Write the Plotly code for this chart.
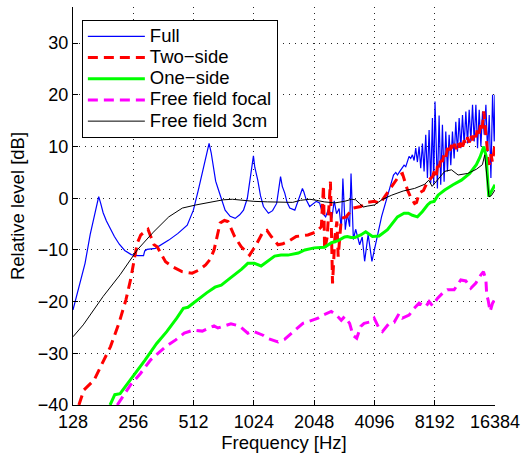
import plotly.graph_objects as go

# ---------------- data ----------------
x_ticks = [128, 256, 512, 1024, 2048, 4096, 8192, 16384]
x_ticklabels = ["128", "256", "512", "1024", "2048", "4096", "8192", "16384"]
y_ticks = [-40, -30, -20, -10, 0, 10, 20, 30]

series_names = ["Full", "Two\u2212side", "One\u2212side", "Free field focal", "Free field 3cm"]

F_full = [128, 137, 147, 156, 163, 168, 172, 176, 181, 188,
          196, 206, 218, 232, 250, 270, 288, 292, 300, 330,
          385, 428, 476, 511, 541, 574, 596, 612, 627, 644,
          660, 682, 736, 780, 826, 870, 909, 950, 981, 1000,
          1019, 1035, 1071, 1105, 1143, 1211, 1270, 1331, 1365, 1392,
          1420, 1461, 1500, 1548, 1640, 1700, 1760, 1790, 1820, 1870,
          1945, 2022, 2100, 2180, 2253, 2338, 2425, 2510, 2580, 2650,
          2730, 2800, 2850, 2930, 3000, 3080, 3130, 3215, 3300, 3455,
          3560, 3660, 3810, 3980, 4130, 4265, 4450, 4605, 4790, 4950,
          5100, 5237, 5338, 5440, 5543, 5650, 5760, 5872, 5985, 6100,
          6218, 6338, 6462, 6587, 6714, 6845, 6976, 7113, 7250, 7390,
          7535, 7680, 7826, 7980, 8100, 8220, 8450, 8616, 8780, 8952,
          9126, 9303, 9484, 9668, 9855, 10046, 10242, 10440, 10642, 10850,
          11060, 11275, 11494, 11717, 11945, 12176, 12412, 12654, 12900, 13150,
          13404, 13664, 13930, 14200, 14475, 14756, 15042, 15333, 15631, 15933,
          16242, 16384]
L_full = [-21.6, -17.1, -12.6, -7, -3.5, -1.2, 0.3, -1, -2.8, -4.4,
          -5.9, -7.4, -8.9, -10.1, -10.9, -11.1, -11.1, -10.2, -9.9, -9.7,
          -8.1, -6.8, -5.2, -2.3, 1.6, 6.1, 9.0, 10.6, 8.8, 5.5,
          3.3, 1.6, -2.3, -3.5, -3.9, -3.2, -2.3, 0, 3.5, 6.2,
          8.2, 6.0, 3.5, 0.5, -1.6, -2.9, -2.4, -1, 2.0, 4.2,
          2.3, 1, -0.8, -1.9, -2.3, -0.6, 1.3, 1.9, 1.2, -0.3,
          -1.6, -1.0, -0.6, -0.9, -2.9, -3.6, -1.9, -3.9, -0.5, -3.0,
          -2.0, -6.0, 3.8, -6.1, -3.0, -5.5, 4.8, -8.0, -6.0, -9.0,
          -7.5, -12.2, -7.0, -12.2, -9.0, -6.8, -3.5, -1.5, 0.5, 2.5,
          4.5, 5.0, 4.5, 5.0, 5.5, 5.8, 6.4, 6.1, 7.0, 8.1,
          7.7, 8.4, 7.3, 9.7, 7.0, 10.0, 5.8, 10.6, 5.2, 12.3,
          3.9, 13.2, 2.9, 15.5, 2.6, 18.7, 1.9, 16.0, 2.6, 14.2,
          3.2, 12.9, 5.2, 12.3, 6.4, 12.9, 7.7, 14.8, 9.0, 15.5,
          9.7, 16.1, 10.3, 16.8, 10.6, 17.1, 11.0, 18.1, 11.0, 18.1,
          9.7, 17.1, 10.0, 16.8, 12.3, 18.1, 9.0, 16.1, 3.9, 20.0,
          11.0, 20.0]

F_two = [137, 145, 163, 179, 197, 217, 235, 248, 258, 268,
         279, 292, 303, 313, 325, 337, 371, 400, 448, 504,
         544, 588, 620, 648, 668, 695, 730, 761, 821, 886,
         975, 1052, 1137, 1190, 1251, 1351, 1430, 1515, 1666, 1906,
         2101, 2225, 2280, 2310, 2380, 2470, 2530, 2600, 2660, 2700,
         2800, 2960, 3200, 3500, 3800, 4096, 4370, 4600, 4800, 5000,
         5250, 5500, 5650, 5800, 6000, 6250, 6500, 6650, 6850, 7200,
         7500, 7800, 8000, 8192, 8350, 8500, 8650, 8800, 8950, 9100,
         9300, 9500, 9700, 9900, 10100, 10300, 10500, 10700, 10900, 11100,
         11300, 11500, 11700, 11950, 12200, 12400, 12650, 12900, 13150, 13400,
         13650, 13900, 14150, 14400, 14600, 14800, 15000, 15200, 15400, 15650,
         15900, 16150, 16384]
L_two = [-40, -37.1, -35.2, -31.9, -28.7, -24.2, -19.7, -15.8, -11.9, -8.7,
         -7.1, -6.4, -6.0, -7.4, -9.0, -9.4, -12.3, -13.2, -14.2, -14.5,
         -13.9, -12.9, -11.8, -10, -7.5, -4.8, -4.3, -4.5, -7.4, -9.4,
         -11, -9, -6.5, -6.2, -7.4, -9, -8.8, -8.4, -7.4, -7.1,
         -6.5, -5.5, 2.5, -10, -7.5, 3.2, -16.5, -7.5, -4.5, -11.3,
         -3.9, -3.6, -1.9, -1.6, -0.8, -0.6, -1.0, 0.3, 1.3, 2.3,
         3.5, 4.6, 4.8, 3.5, 1.5, 0, -1.0, -0.8, 1.0, 1.5,
         3.0, 3.8, 4.2, 5.5, 4.5, 7, 6, 8, 7, 8.5,
         7.8, 9.7, 8.8, 10.3, 9.2, 10.5, 9.5, 10.8, 9.8, 11,
         10, 11.2, 10.4, 11.8, 10.8, 12.2, 11.2, 12.8, 11.8, 13.5,
         12.5, 14.5, 13.5, 16.8, 14, 12.5, 9, 7, 6.5, 8.5,
         7, 9.5, 10.5]

F_one = [196, 207, 220, 233, 251, 266, 293, 335, 376, 422,
         455, 480, 531, 595, 655, 704, 760, 821, 890, 955,
         1030, 1113, 1200, 1300, 1400, 1515, 1708, 1840, 2050, 2307,
         2500, 2700, 2906, 3003, 3131, 3270, 3500, 3705, 4004, 4322,
         4760, 5050, 5338, 5760, 6050, 6338, 6714, 7100, 7535, 7800,
         8136, 8510, 9190, 10114, 11131, 12249, 13223, 13800, 14400, 14800,
         15250, 15708, 16384]
L_one = [-40, -38, -37.8, -36.5, -34.8, -33.6, -31.3, -28.1, -25.8, -23.2,
         -21.3, -21.1, -19.7, -18.3, -17.2, -16.8, -15.8, -14.8, -13.7, -12.6,
         -12.6, -13.1, -12.2, -11.2, -11.0, -11.0, -10.6, -10.0, -9.6, -9.5,
         -8.6, -8.2, -7.5, -7.4, -7.6, -7.6, -7.1, -6.5, -7.4, -7.3,
         -6.1, -4.8, -3.6, -2.9, -2.9, -3.3, -3.6, -2.6, -1.3, -0.8,
         -0.6, 0.6, 1.6, 2.6, 3.5, 4.8, 6.5, 8.0, 10.0, 8.1,
         0.3, 1.3, 2.6]

F_focal = [213, 226, 248, 278, 312, 372, 417, 460, 512, 566,
           648, 677, 787, 868, 955, 1013, 1137, 1197, 1351, 1456,
           1605, 1800, 1906, 2141, 2270, 2493, 2641, 2797, 2906, 3079,
           3200, 3343, 3500, 3638, 3926, 4082, 4322, 4490, 4850, 5136,
           5440, 5650, 6100, 6462, 6845, 7390, 7680, 7980, 8450, 8952,
           9484, 10242, 11060, 11717, 12412, 13150, 13930, 14350, 14756, 14900,
           15140, 15490, 15930, 16384]
L_focal = [-40, -38.4, -36.1, -33.9, -31.3, -28.7, -27.4, -26.1, -25.5, -25.7,
           -24.7, -25.1, -24.3, -24.7, -26.1, -25.7, -26.5, -27.1, -27.8, -27.3,
           -25.8, -24.2, -23.9, -23.2, -22.6, -21.9, -22.6, -23.6, -22.9, -24.2,
           -26.5, -27.1, -24.8, -24.2, -23.9, -23.2, -25.2, -25.8, -24.2, -24.0,
           -22.3, -23.2, -22.6, -21.3, -20.3, -21.0, -20.0, -20.8, -19.4, -18.4,
           -17.7, -17.7, -15.8, -16.0, -17.4, -16.4, -14.8, -14.2, -15.8, -18.7,
           -19.7, -21.9, -20.3, -19.5]

F_3cm = [128, 144, 181, 220, 268, 318, 385, 450, 525, 600,
         650, 720, 800, 900, 1024, 1200, 1400, 1600, 1750, 1950,
         2100, 2300, 2600, 2900, 3150, 3300, 3450, 3600, 3800, 4096,
         4500, 5000, 5700, 6500, 7300, 7650, 7950, 8300, 9190, 9930,
         10720, 11970, 13220, 14180, 14560, 15290, 15710, 16384]
L_3cm = [-26.8, -24.5, -19, -14.8, -10, -6.8, -3.6, -1.9, -1.3, -0.9,
         -0.65, -0.3, -0.2, -0.4, -0.6, -0.7, -0.8, -0.8, -0.4, -0.2,
         -0.4, -0.7, -0.9, -0.6, -0.2, -0.3, -1.0, -1.7, -1.5, -1.3,
         -0.2, 0.6, 1.4, 1.9, 2.7, 3.5, 2.3, 3.2, 5.2, 5.5,
         4.5, 4.8, 5.6, 6.5, 8.4, 0.3, 0.5, 1.6]

# ---------------- figure ----------------
styles = [
    dict(color="#0000ff", width=1.2),
    dict(color="#ff0000", width=3, dash="10px,6px"),
    dict(color="#00ff00", width=3),
    dict(color="#ff00ff", width=3, dash="10px,6px"),
    dict(color="#000000", width=1),
]
data = [(F_full, L_full), (F_two, L_two), (F_one, L_one), (F_focal, L_focal), (F_3cm, L_3cm)]

fig = go.Figure()
for name, (fx, ly), st in zip(series_names, data, styles):
    assert len(fx) == len(ly), name
    fig.add_trace(go.Scatter(
        x=fx, y=ly, mode="lines", line=st,
        name='<span style="font-size:18.5px">' + name + "</span>"))

FONT = "Liberation Sans, Arial, Helvetica, sans-serif"
fig.update_layout(
    width=526, height=453,
    margin=dict(l=73, r=31, t=7, b=48, autoexpand=False),
    paper_bgcolor="white", plot_bgcolor="white",
    font=dict(family=FONT, size=18, color="black"),
    showlegend=True,
    legend=dict(x=0.021, y=0.968, xanchor="left", yanchor="top",
                bgcolor="white", bordercolor="black", borderwidth=1,
                font=dict(family=FONT, size=14, color="black"),
                itemwidth=57, tracegroupgap=0),
)
fig.update_xaxes(
    type="log", range=[2.10721, 4.21442],
    tickvals=x_ticks, ticktext=x_ticklabels,
    tickfont=dict(size=18), ticks="inside", ticklen=5, tickcolor="black",
    showline=True, linecolor="black", linewidth=1, mirror=False,
    showgrid=True, gridcolor="rgba(0,0,0,0.85)", griddash="1px,5px", gridwidth=1,
    zeroline=False, automargin=False,
    title=dict(text="Frequency [Hz]", font=dict(size=18.5), standoff=7),
)
fig.update_yaxes(
    range=[-40, 37], tickvals=y_ticks,
    tickfont=dict(size=18), ticks="inside", ticklen=5, tickcolor="black",
    showline=True, linecolor="black", linewidth=1, mirror=False,
    showgrid=True, gridcolor="rgba(0,0,0,0.85)", griddash="1px,5px", gridwidth=1,
    zeroline=False, automargin=False,
    title=dict(text="Relative level [dB]", font=dict(size=18.5), standoff=8),
)

fig.write_html("out.html")
